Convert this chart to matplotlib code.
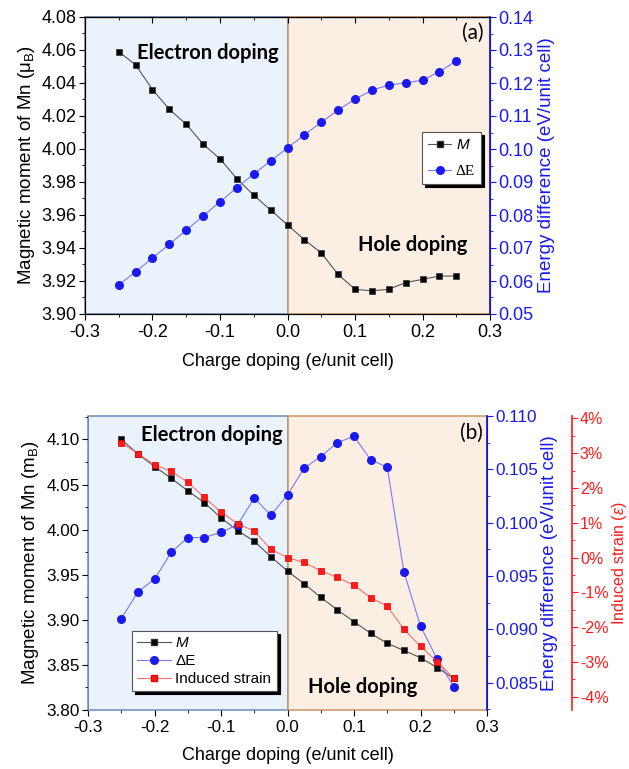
import numpy as np
from matplotlib import pyplot as plt
from matplotlib.ticker import MultipleLocator, FormatStrFormatter, FuncFormatter
from matplotlib.lines import Line2D

plt.rcParams['font.family'] = ['Liberation Sans', 'DejaVu Sans']
plt.rcParams['mathtext.fontset'] = 'custom'
plt.rcParams['mathtext.rm'] = 'Liberation Sans'
plt.rcParams['mathtext.it'] = 'Liberation Sans:italic'

# charge doping (e/unit cell)
doping = [-0.25, -0.225, -0.2, -0.175, -0.15, -0.125, -0.1, -0.075, -0.05, -0.025, 0.0,
          0.025, 0.05, 0.075, 0.1, 0.125, 0.15, 0.175, 0.2, 0.225, 0.25]

# panel (a)
mom_a = [4.059, 4.051, 4.036, 4.024, 4.015, 4.003, 3.994, 3.982, 3.972, 3.963, 3.954,
         3.945, 3.937, 3.924, 3.915, 3.914, 3.915, 3.919, 3.921, 3.923, 3.923]
de_a = [0.0588, 0.0628, 0.0670, 0.0711, 0.0754, 0.0797, 0.0840, 0.0883, 0.0924, 0.0964, 0.1003,
        0.1043, 0.1081, 0.1118, 0.1151, 0.1178, 0.1194, 0.1200, 0.1209, 0.1234, 0.1267]

# panel (b)
mom_b = [4.100, 4.084, 4.070, 4.057, 4.043, 4.030, 4.013, 3.999, 3.987, 3.970, 3.954,
         3.940, 3.925, 3.911, 3.898, 3.885, 3.874, 3.866, 3.858, 3.847, 3.835]
de_b = [0.0910, 0.0935, 0.0947, 0.0972, 0.0986, 0.0986, 0.0991, 0.0998, 0.1023, 0.1007, 0.1026,
        0.1051, 0.1062, 0.1075, 0.1081, 0.1059, 0.1052, 0.0954, 0.0903, 0.0872, 0.0846]
strain_b = [3.30, 2.99, 2.67, 2.48, 2.17, 1.73, 1.31, 0.98, 0.76, 0.24, 0.00,
            -0.14, -0.38, -0.57, -0.79, -1.15, -1.39, -2.06, -2.55, -2.99, -3.47]

BLUE = '#1a1aee'
RED = '#ff1a1a'
blue_bg = '#eaf2fb'
peach_bg = '#fbeee3'
blue_edge = '#6f8db5'
peach_edge = '#c8956a'
lab_fs = 13.5


def shade(ax):
  ax.axvspan(-0.3, 0.0, facecolor=blue_bg, edgecolor=blue_edge, lw=1.1, zorder=0, clip_on=False)
  ax.axvspan(0.0, 0.3, facecolor=peach_bg, edgecolor=peach_edge, lw=1.1, zorder=0, clip_on=False)


def style_x(ax, fs):
  ax.set_xlim(-0.3, 0.3)
  ax.xaxis.set_major_locator(MultipleLocator(0.1))
  ax.xaxis.set_minor_locator(MultipleLocator(0.05))
  ax.xaxis.set_major_formatter(FormatStrFormatter('%.1f'))
  ax.tick_params(axis='x', which='major', direction='out', length=4, labelsize=fs, top=False)
  ax.tick_params(axis='x', which='minor', direction='out', length=2.5, top=False)
  ax.set_xlabel('Charge doping (e/unit cell)', fontsize=13, labelpad=8)


f = plt.figure(figsize=[6.29, 7.69], dpi=100)

# ---------------- (a)
fs = 13
ax = f.add_axes([85/629, 1-314/769, 405/629, 297/769])
shade(ax)
style_x(ax, fs)
top = ax.secondary_xaxis('top')
top.xaxis.set_major_locator(MultipleLocator(0.1))
top.xaxis.set_minor_locator(MultipleLocator(0.05))
top.tick_params(which='major', direction='in', length=4, labeltop=False)
top.tick_params(which='minor', direction='in', length=2.5)
ax.plot(doping, mom_a, '-s', color='#555555', mfc='k', mec='#333333', mew=0.5, ms=5, lw=0.8)
ax.set_ylim(3.90, 4.08)
ax.yaxis.set_major_locator(MultipleLocator(0.02))
ax.yaxis.set_minor_locator(MultipleLocator(0.01))
ax.yaxis.set_major_formatter(FormatStrFormatter('%.2f'))
ax.tick_params(axis='y', which='major', direction='out', length=4, labelsize=fs, pad=2)
ax.tick_params(axis='y', which='minor', direction='out', length=2.5)
ax.set_ylabel(r'Magnetic moment of Mn ($\mathrm{\mu_B}$)', fontsize=lab_fs, labelpad=3)
ax.text(0.304, 0.879, 'Electron doping', transform=ax.transAxes, ha='center', va='center',
        family='Lato', weight='bold', fontsize=14.5)
ax.text(0.81, 0.232, 'Hole doping', transform=ax.transAxes, ha='center', va='center',
        family='Lato', weight='bold', fontsize=14.5)
ax.text(0.985, 0.946, '(a)', transform=ax.transAxes, ha='right', va='center',
        family='Lato', fontsize=15)

ax2 = ax.twinx()
ax2.plot(doping, de_a, '-o', color='#7878ff', mfc=BLUE, mec=BLUE, ms=5.5, lw=0.8)
ax2.set_ylim(0.05, 0.14)
ax2.yaxis.set_major_locator(MultipleLocator(0.01))
ax2.yaxis.set_minor_locator(MultipleLocator(0.005))
ax2.yaxis.set_major_formatter(FormatStrFormatter('%.2f'))
ax2.spines['right'].set_color(BLUE)
ax2.spines['right'].set_linewidth(1.2)
ax2.tick_params(axis='y', which='major', direction='out', length=4, labelsize=fs, colors=BLUE, pad=2)
ax2.tick_params(axis='y', which='minor', direction='out', length=2.5, colors=BLUE)
ax2.set_ylabel('Energy difference (eV/unit cell)', fontsize=lab_fs, color=BLUE, labelpad=3)

hs = [Line2D([], [], color='#555555', marker='s', mfc='k', mec='#333333', ms=5, lw=0.8),
      Line2D([], [], color='#7878ff', marker='o', mfc=BLUE, mec=BLUE, ms=5.5, lw=0.8)]
lg = ax2.legend(hs, ['$\\mathit{M}$', '\u0394E'], loc='upper left', bbox_to_anchor=(0.832, 0.613),
                borderaxespad=0, fancybox=False, edgecolor='#555555', fontsize=11,
                handlelength=1.5, handletextpad=0.3, borderpad=0.4, labelspacing=0.8,
                shadow={'color': 'k', 'alpha': 1})
lg.get_frame().set_linewidth(0.8)
lg.get_texts()[1].set_family('Liberation Serif')

# ---------------- (b)
fs = 12.3
bx = f.add_axes([88/629, 1-710/769, 399/629, 294/769])
shade(bx)
style_x(bx, fs)
for s in ['top', 'bottom']:
  bx.spines[s].set_visible(False)
bx.spines['left'].set_color(blue_edge)
bx.plot(doping, mom_b, '-s', color='#555555', mfc='k', mec='#333333', mew=0.5, ms=5, lw=0.8)
bx.set_ylim(3.80, 4.126)
bx.yaxis.set_major_locator(MultipleLocator(0.05))
bx.yaxis.set_minor_locator(MultipleLocator(0.025))
bx.yaxis.set_major_formatter(FormatStrFormatter('%.2f'))
bx.tick_params(axis='y', which='major', direction='out', length=4, labelsize=fs, pad=2)
bx.tick_params(axis='y', which='minor', direction='out', length=2.5)
bx.set_ylabel(r'Magnetic moment of Mn (m$_\mathrm{B}$)', fontsize=lab_fs, labelpad=4)
bx.text(0.311, 0.935, 'Electron doping', transform=bx.transAxes, ha='center', va='center',
        family='Lato', weight='bold', fontsize=14.5)
bx.text(0.689, 0.078, 'Hole doping', transform=bx.transAxes, ha='center', va='center',
        family='Lato', weight='bold', fontsize=14.5)
bx.text(0.99, 0.942, '(b)', transform=bx.transAxes, ha='right', va='center',
        family='Lato', fontsize=15)

bx2 = bx.twinx()
for s in ['top', 'bottom', 'left']:
  bx2.spines[s].set_visible(False)
bx2.plot(doping, de_b, '-o', color='#7878ff', mfc=BLUE, mec=BLUE, ms=5.5, lw=0.8)
bx2.set_ylim(0.08243, 0.110)
bx2.yaxis.set_major_locator(MultipleLocator(0.005))
bx2.yaxis.set_minor_locator(MultipleLocator(0.0025))
bx2.yaxis.set_major_formatter(FormatStrFormatter('%.3f'))
bx2.spines['right'].set_color(BLUE)
bx2.spines['right'].set_linewidth(1.2)
bx2.tick_params(axis='y', which='major', direction='out', length=4, labelsize=fs, colors=BLUE, pad=2)
bx2.tick_params(axis='y', which='minor', direction='out', length=2.5, colors=BLUE)
bx2.set_ylabel('Energy difference (eV/unit cell)', fontsize=lab_fs, color=BLUE, labelpad=2)

bx3 = bx.twinx()
for s in ['top', 'bottom', 'left']:
  bx3.spines[s].set_visible(False)
bx3.spines['right'].set_position(('axes', 1.212))
bx3.spines['right'].set_color(RED)
bx3.spines['right'].set_linewidth(1.2)
bx3.plot(doping, strain_b, '-s', color='#ff7070', mfc=RED, mec='#e00000', mew=0.5, ms=5, lw=0.8)
bx3.set_ylim(-4.38, 4.07)
bx3.yaxis.set_major_locator(MultipleLocator(1))
bx3.yaxis.set_minor_locator(MultipleLocator(0.5))
bx3.yaxis.set_major_formatter(FuncFormatter(lambda v, p: '%d%%' % round(v)))
bx3.tick_params(axis='y', which='major', direction='out', length=4, labelsize=11.5, colors=RED, pad=2)
bx3.tick_params(axis='y', which='minor', direction='out', length=2.5, colors=RED)
bx3.set_ylabel(r'Induced strain ($\varepsilon$)', fontsize=11.5, color=RED, labelpad=1)

hs = [Line2D([], [], color='#555555', marker='s', mfc='k', mec='#333333', ms=5, lw=0.8),
      Line2D([], [], color='#7878ff', marker='o', mfc=BLUE, mec=BLUE, ms=5.5, lw=0.8),
      Line2D([], [], color='#ff7070', marker='s', mfc=RED, mec='#e00000', ms=5, lw=0.8)]
lg = bx3.legend(hs, ['$\\mathit{M}$', '\u0394E', 'Induced strain'], loc='upper left',
                bbox_to_anchor=(0.110, 0.269), borderaxespad=0, fancybox=False, edgecolor='#555555',
                fontsize=11, handlelength=2.2, handletextpad=0.3, borderpad=0.35, labelspacing=0.25,
                shadow={'color': 'k', 'alpha': 1})
lg.get_frame().set_linewidth(0.8)

plt.savefig('out.png', dpi=100)
